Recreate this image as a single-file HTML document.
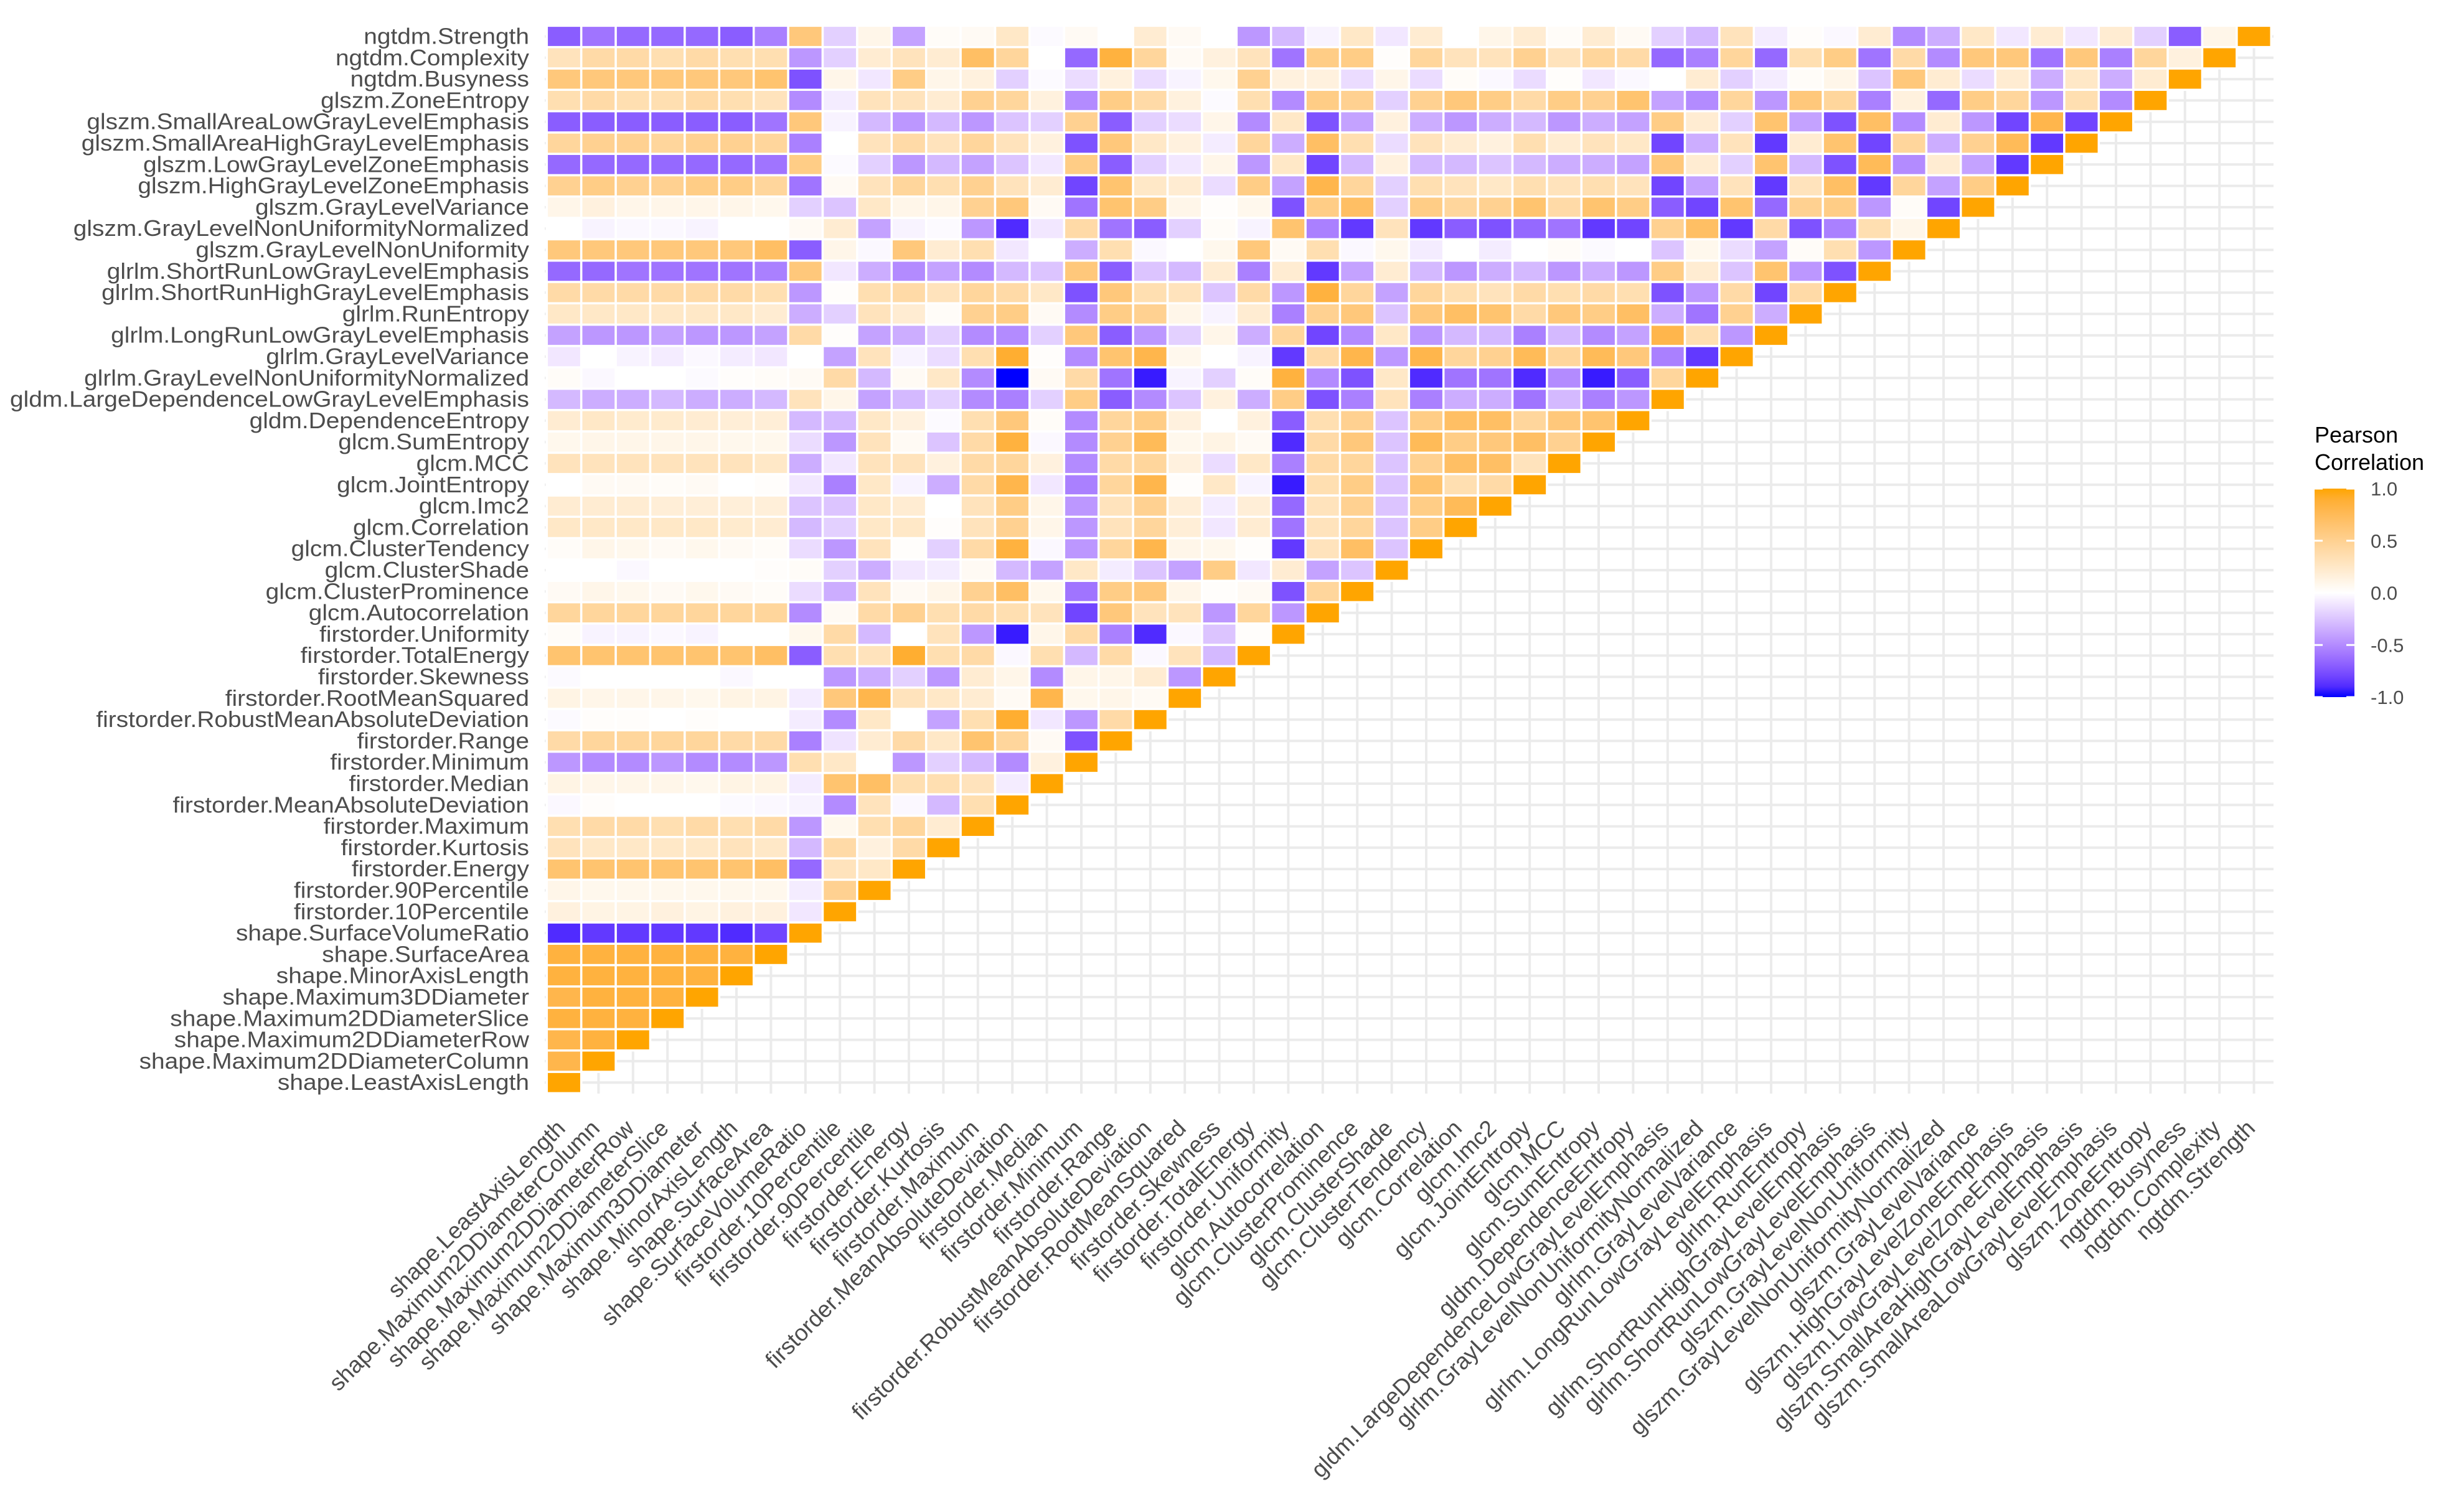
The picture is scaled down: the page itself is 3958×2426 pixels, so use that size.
<!DOCTYPE html>
<html><head><meta charset="utf-8"><style>
html,body{margin:0;padding:0;background:#fff;}
svg{display:block;}
text{font-family:"Liberation Sans",Arial,sans-serif;}
</style></head><body>
<svg id="chart" width="3958" height="2426" viewBox="0 0 3958 2426" xmlns="http://www.w3.org/2000/svg">
<rect width="3958" height="2426" fill="#ffffff"/>
<g id="grid"></g>
<g id="tiles"></g>
<g id="ylabels"></g>
<g id="xlabels"></g>
<g id="legend">
<defs><linearGradient id="lg" x1="0" y1="0" x2="0" y2="1"></linearGradient></defs>
<text x="3718" y="711" font-size="36" fill="#000">Pearson</text>
<text x="3718" y="755" font-size="36" fill="#000">Correlation</text>
</g>
</svg>
<script>
const varNames = ["shape.LeastAxisLength","shape.Maximum2DDiameterColumn","shape.Maximum2DDiameterRow","shape.Maximum2DDiameterSlice","shape.Maximum3DDiameter","shape.MinorAxisLength","shape.SurfaceArea","shape.SurfaceVolumeRatio","firstorder.10Percentile","firstorder.90Percentile","firstorder.Energy","firstorder.Kurtosis","firstorder.Maximum","firstorder.MeanAbsoluteDeviation","firstorder.Median","firstorder.Minimum","firstorder.Range","firstorder.RobustMeanAbsoluteDeviation","firstorder.RootMeanSquared","firstorder.Skewness","firstorder.TotalEnergy","firstorder.Uniformity","glcm.Autocorrelation","glcm.ClusterProminence","glcm.ClusterShade","glcm.ClusterTendency","glcm.Correlation","glcm.Imc2","glcm.JointEntropy","glcm.MCC","glcm.SumEntropy","gldm.DependenceEntropy","gldm.LargeDependenceLowGrayLevelEmphasis","glrlm.GrayLevelNonUniformityNormalized","glrlm.GrayLevelVariance","glrlm.LongRunLowGrayLevelEmphasis","glrlm.RunEntropy","glrlm.ShortRunHighGrayLevelEmphasis","glrlm.ShortRunLowGrayLevelEmphasis","glszm.GrayLevelNonUniformity","glszm.GrayLevelNonUniformityNormalized","glszm.GrayLevelVariance","glszm.HighGrayLevelZoneEmphasis","glszm.LowGrayLevelZoneEmphasis","glszm.SmallAreaHighGrayLevelEmphasis","glszm.SmallAreaLowGrayLevelEmphasis","glszm.ZoneEntropy","ngtdm.Busyness","ngtdm.Complexity","ngtdm.Strength"];
// corrRows[i] = correlations of variable i with variables 0..i (lower triangle)
const corrRows = [
[1],
[0.8,1],
[0.8,0.85,1],
[0.85,0.85,0.85,1],
[0.8,0.85,0.85,0.85,1],
[0.85,0.85,0.85,0.85,0.85,1],
[0.85,0.85,0.85,0.85,0.85,0.85,1],
[-0.9,-0.85,-0.85,-0.85,-0.85,-0.9,-0.8,1],
[0.15,0.12,0.12,0.15,0.12,0.15,0.15,-0.1,1],
[0.1,0.08,0.08,0.08,0.08,0.08,0.08,-0.08,0.5,1],
[0.65,0.65,0.65,0.65,0.65,0.65,0.7,-0.65,0.3,0.25,1],
[0.3,0.25,0.25,0.25,0.25,0.3,0.25,-0.3,0.4,0.15,0.4,1],
[0.35,0.4,0.4,0.35,0.4,0.35,0.4,-0.45,0.08,0.35,0.45,0.2,1],
[-0.03,0.02,0,0,0,-0.02,-0.03,-0.05,-0.5,0.3,-0.03,-0.3,0.35,1],
[0.12,0.1,0.1,0.1,0.08,0.12,0.12,-0.08,0.65,0.7,0.35,0.35,0.3,-0.08,1],
[-0.45,-0.5,-0.5,-0.45,-0.5,-0.5,-0.45,0.35,0.25,0,-0.45,-0.2,-0.3,-0.5,0.15,1],
[0.4,0.45,0.45,0.45,0.45,0.4,0.4,-0.55,-0.12,0.2,0.4,0.25,0.65,0.45,0.05,-0.75,1],
[-0.02,0.02,0.02,0,0.02,0,0,-0.08,-0.5,0.25,0,-0.4,0.35,0.9,-0.1,-0.45,0.4,1],
[0.12,0.1,0.1,0.1,0.08,0.12,0.12,-0.08,0.6,0.8,0.3,0.25,0.2,0.05,0.8,0.08,0.1,0.05,1],
[-0.02,0,0,0,0,-0.03,0,0,-0.45,-0.35,-0.2,-0.45,0.2,0.1,-0.5,0.1,0.1,0.2,-0.45,1],
[0.65,0.65,0.65,0.65,0.65,0.65,0.7,-0.7,0.35,0.3,0.9,0.35,0.4,-0.03,0.35,-0.3,0.4,-0.03,0.3,-0.3,1],
[0.03,-0.05,-0.05,-0.03,-0.05,0,0,0.08,0.4,-0.3,0,0.3,-0.45,-0.95,0.1,0.4,-0.55,-0.9,-0.03,-0.25,0.02,1],
[0.45,0.45,0.45,0.45,0.45,0.45,0.45,-0.5,0.05,0.4,0.5,0.35,0.4,0.35,0.3,-0.8,0.6,0.3,0.3,-0.45,0.45,-0.45,1],
[0.05,0.1,0.08,0.05,0.08,0.05,0.03,-0.15,-0.35,0.3,0.05,0.1,0.5,0.7,0.08,-0.6,0.55,0.6,0.1,0.02,0.05,-0.75,0.45,1],
[0,0,-0.03,0,0,0,0.02,0.03,-0.2,-0.35,-0.1,-0.08,0.05,-0.3,-0.4,0.25,-0.08,-0.25,-0.4,0.55,-0.1,0.2,-0.4,-0.25,1],
[0.03,0.1,0.08,0.05,0.08,0.05,0.03,-0.15,-0.45,0.3,0.02,-0.2,0.4,0.85,-0.03,-0.45,0.45,0.8,0.1,0.08,0.02,-0.85,0.3,0.7,-0.25,1],
[0.25,0.25,0.25,0.25,0.25,0.22,0.2,-0.3,-0.2,0.25,0.25,0.02,0.3,0.5,0.1,-0.45,0.3,0.45,0.18,-0.1,0.2,-0.6,0.3,0.45,-0.25,0.55,1],
[0.2,0.2,0.2,0.18,0.18,0.17,0.17,-0.25,-0.25,0.25,0.2,0,0.3,0.55,0.1,-0.45,0.3,0.5,0.18,-0.08,0.18,-0.65,0.3,0.5,-0.25,0.55,0.75,1],
[0,0.05,0.05,0.03,0.05,0,0.02,-0.1,-0.55,0.25,-0.05,-0.35,0.4,0.8,-0.1,-0.55,0.45,0.8,0.02,0.25,-0.05,-0.95,0.35,0.55,-0.25,0.65,0.35,0.4,1],
[0.3,0.3,0.3,0.3,0.3,0.3,0.25,-0.35,-0.1,0.3,0.3,0.15,0.4,0.45,0.15,-0.5,0.4,0.45,0.15,-0.15,0.25,-0.55,0.4,0.45,-0.25,0.5,0.7,0.7,0.3,1],
[0.08,0.1,0.1,0.1,0.1,0.08,0.08,-0.15,-0.45,0.3,0.05,-0.25,0.4,0.85,-0.03,-0.5,0.5,0.75,0.08,0.12,0.05,-0.9,0.4,0.6,-0.25,0.75,0.55,0.6,0.7,0.5,1],
[0.2,0.25,0.22,0.22,0.2,0.18,0.18,-0.3,-0.3,0.25,0.15,-0.02,0.35,0.6,0.03,-0.5,0.45,0.55,0.15,0,0.15,-0.7,0.35,0.5,-0.25,0.55,0.7,0.7,0.45,0.6,0.65,1],
[-0.3,-0.35,-0.35,-0.3,-0.35,-0.35,-0.3,0.3,0.1,-0.4,-0.3,-0.2,-0.5,-0.55,-0.2,0.55,-0.7,-0.5,-0.25,0.15,-0.35,0.55,-0.75,-0.55,0.3,-0.55,-0.35,-0.35,-0.6,-0.3,-0.55,-0.45,1],
[0.03,-0.03,0,0,-0.02,0.02,0.03,0.05,0.4,-0.3,0.05,0.25,-0.5,-1.0,0.05,0.4,-0.6,-0.95,-0.05,-0.2,0.03,0.85,-0.5,-0.75,0.25,-0.9,-0.6,-0.6,-0.9,-0.5,-0.95,-0.7,0.45,1],
[-0.1,0,-0.05,-0.08,-0.03,-0.08,-0.1,0,-0.4,0.3,-0.05,-0.15,0.35,0.9,0.02,-0.5,0.65,0.8,0.08,0,-0.05,-0.85,0.4,0.8,-0.45,0.8,0.45,0.5,0.75,0.45,0.75,0.6,-0.55,-0.85,1],
[-0.4,-0.45,-0.45,-0.4,-0.45,-0.45,-0.4,0.4,0.02,-0.4,-0.35,-0.2,-0.5,-0.5,-0.2,0.6,-0.7,-0.45,-0.2,0.1,-0.35,0.45,-0.8,-0.5,0.25,-0.45,-0.3,-0.3,-0.55,-0.3,-0.5,-0.4,0.8,0.35,-0.45,1],
[0.25,0.25,0.25,0.25,0.25,0.25,0.2,-0.35,-0.2,0.3,0.2,0.03,0.5,0.55,0.05,-0.5,0.55,0.5,0.1,-0.05,0.2,-0.55,0.5,0.6,-0.25,0.6,0.7,0.65,0.4,0.6,0.55,0.7,-0.35,-0.6,0.5,-0.35,1],
[0.4,0.4,0.4,0.4,0.4,0.4,0.35,-0.45,0.02,0.35,0.4,0.3,0.45,0.4,0.25,-0.75,0.6,0.35,0.3,-0.25,0.4,-0.45,0.85,0.45,-0.4,0.45,0.35,0.3,0.4,0.35,0.4,0.35,-0.75,-0.45,0.4,-0.8,0.4,1],
[-0.65,-0.65,-0.6,-0.6,-0.6,-0.6,-0.55,0.6,-0.1,-0.35,-0.5,-0.4,-0.5,-0.3,-0.25,0.6,-0.7,-0.25,-0.3,0.2,-0.55,0.2,-0.85,-0.4,0.2,-0.3,-0.45,-0.35,-0.3,-0.45,-0.35,-0.45,0.55,0.2,-0.25,0.65,-0.45,-0.75,1],
[0.6,0.6,0.6,0.6,0.6,0.6,0.7,-0.7,0.1,-0.03,0.6,0.2,0.35,-0.1,0,-0.35,0.35,-0.03,0,0.08,0.6,0.05,0.35,-0.03,0.08,-0.08,0,-0.08,0,0.03,-0.02,0,-0.25,0.08,-0.15,-0.4,0.03,0.35,-0.45,1],
[0,-0.05,-0.03,-0.03,-0.05,0,0,0.05,0.2,-0.4,-0.05,-0.02,-0.45,-0.9,-0.1,0.4,-0.6,-0.7,-0.2,0.03,-0.05,0.65,-0.55,-0.85,0.3,-0.85,-0.7,-0.75,-0.65,-0.6,-0.85,-0.8,0.5,0.7,-0.85,0.4,-0.75,-0.55,0.35,0.1,1],
[0.1,0.15,0.1,0.1,0.1,0.1,0.08,-0.2,-0.25,0.25,0.1,0.1,0.5,0.6,0.05,-0.6,0.65,0.55,0.1,0.02,0.08,-0.75,0.55,0.7,-0.2,0.55,0.45,0.5,0.65,0.4,0.65,0.55,-0.7,-0.8,0.65,-0.65,0.5,0.55,-0.45,0.03,-0.8,1],
[0.5,0.55,0.5,0.5,0.55,0.55,0.45,-0.6,0.05,0.3,0.45,0.35,0.5,0.3,0.2,-0.8,0.65,0.25,0.2,-0.15,0.55,-0.4,0.8,0.45,-0.2,0.35,0.3,0.25,0.35,0.3,0.35,0.3,-0.8,-0.4,0.3,-0.85,0.3,0.7,-0.85,0.45,-0.4,0.55,1],
[-0.65,-0.65,-0.65,-0.65,-0.65,-0.65,-0.6,0.55,-0.02,-0.2,-0.45,-0.3,-0.4,-0.25,-0.1,0.55,-0.7,-0.2,-0.1,0.1,-0.45,0.25,-0.8,-0.3,0.15,-0.3,-0.3,-0.25,-0.3,-0.35,-0.35,-0.4,0.6,0.2,-0.2,0.65,-0.3,-0.75,0.75,-0.5,0.2,-0.4,-0.85,1],
[0.45,0.5,0.5,0.45,0.5,0.5,0.45,-0.55,0,0.3,0.4,0.3,0.45,0.3,0.15,-0.75,0.6,0.25,0.15,-0.08,0.45,-0.35,0.7,0.35,-0.15,0.3,0.2,0.15,0.35,0.2,0.3,0.25,-0.8,-0.35,0.3,-0.85,0.2,0.65,-0.8,0.45,-0.35,0.5,0.75,-0.85,1],
[-0.7,-0.7,-0.7,-0.7,-0.7,-0.7,-0.6,0.6,-0.05,-0.3,-0.45,-0.3,-0.45,-0.25,-0.2,0.5,-0.7,-0.2,-0.15,0.1,-0.5,0.25,-0.75,-0.4,0.15,-0.35,-0.45,-0.35,-0.3,-0.45,-0.35,-0.4,0.55,0.2,-0.2,0.65,-0.4,-0.75,0.7,-0.5,0.2,-0.45,-0.8,0.8,-0.8,1],
[0.35,0.4,0.35,0.35,0.4,0.35,0.3,-0.5,-0.08,0.3,0.3,0.2,0.5,0.45,0.15,-0.5,0.55,0.4,0.15,-0.02,0.35,-0.5,0.55,0.5,-0.2,0.5,0.6,0.55,0.4,0.55,0.5,0.65,-0.4,-0.5,0.45,-0.45,0.6,0.45,-0.55,0.15,-0.65,0.55,0.45,-0.45,0.35,-0.5,1],
[0.6,0.6,0.6,0.6,0.6,0.6,0.65,-0.75,0.1,-0.1,0.55,0.1,0.15,-0.2,-0.02,-0.15,0.15,-0.15,-0.05,0.08,0.5,0.15,0.15,-0.15,0.1,-0.15,0.03,-0.03,-0.15,0.02,-0.1,-0.03,0,0.2,-0.2,-0.08,0.03,0.1,-0.25,0.6,0.2,-0.15,0.2,-0.35,0.25,-0.35,0.2,1],
[0.3,0.4,0.4,0.35,0.4,0.35,0.35,-0.45,-0.2,0.2,0.3,0.2,0.7,0.45,0,-0.65,0.85,0.45,0.05,0.15,0.3,-0.6,0.55,0.55,0.02,0.45,0.3,0.3,0.5,0.3,0.45,0.4,-0.65,-0.55,0.45,-0.65,0.35,0.55,-0.6,0.4,-0.5,0.6,0.6,-0.6,0.6,-0.55,0.45,0.15,1],
[-0.7,-0.6,-0.65,-0.65,-0.65,-0.7,-0.55,0.6,-0.2,0.1,-0.4,0.03,0.05,0.25,-0.02,0.05,0,0.2,0.05,0,-0.45,-0.3,-0.05,0.25,-0.1,0.2,0,0.1,0.2,0.03,0.2,0.05,-0.2,-0.3,0.3,-0.08,0.02,-0.03,0.2,-0.5,-0.35,0.25,-0.1,0.2,-0.1,0.2,-0.2,-0.7,0.1,1]
];
const legendTicks = [1.0, 0.5, 0.0, -0.5, -1.0];
const legendTickLabels = ["1.0","0.5","0.0","-0.5","-1.0"];

const NS = "http://www.w3.org/2000/svg";
const N = varNames.length;
const X0 = 906, DX = 55.4, Y0 = 58.5, DY = 34.3;
function xPos(j){ return X0 + j*DX; }
function yPos(i){ return Y0 + (N-1-i)*DY; }
function s2l(c){ c/=255; return c<=0.04045? c/12.92 : Math.pow((c+0.055)/1.055,2.4); }
function l2s(c){ c = c<=0.0031308? 12.92*c : 1.055*Math.pow(c,1/2.4)-0.055; return Math.max(0,Math.min(255,Math.round(c*255))); }
function toLab(rgb){ const r=s2l(rgb[0]),g=s2l(rgb[1]),b=s2l(rgb[2]);
 let X=(0.4124*r+0.3576*g+0.1805*b)/0.95047, Y=(0.2126*r+0.7152*g+0.0722*b), Z=(0.0193*r+0.1192*g+0.9505*b)/1.08883;
 const f=t=>t>0.008856?Math.cbrt(t):7.787*t+16/116; X=f(X);Y=f(Y);Z=f(Z);
 return [116*Y-16, 500*(X-Y), 200*(Y-Z)]; }
function fromLab(lab){ const Y=(lab[0]+16)/116, X=lab[1]/500+Y, Z=Y-lab[2]/200;
 const fi=t=>{const t3=t*t*t; return t3>0.008856?t3:(t-16/116)/7.787;};
 const x=fi(X)*0.95047,y=fi(Y),z=fi(Z)*1.08883;
 const r=3.2406*x-1.5372*y-0.4986*z, g=-0.9689*x+1.8758*y+0.0415*z, b=0.0557*x-0.2040*y+1.0570*z;
 return "rgb("+l2s(r)+","+l2s(g)+","+l2s(b)+")"; }
const LW=toLab([255,255,255]), LO=toLab([255,165,0]), LB=toLab([0,0,255]);
function colorOf(v){ v=Math.max(-1,Math.min(1,v)); const t=Math.abs(v), E=v>=0?LO:LB;
 return fromLab([LW[0]+(E[0]-LW[0])*t, LW[1]+(E[1]-LW[1])*t, LW[2]+(E[2]-LW[2])*t]); }

const grid=document.getElementById('grid');
for(let j=0;j<N;j++){
 const l=document.createElementNS(NS,'line');
 l.setAttribute('x1',xPos(j));l.setAttribute('x2',xPos(j));l.setAttribute('y1',40);l.setAttribute('y2',1757);
 l.setAttribute('stroke','#ebebeb');l.setAttribute('stroke-width',4);
 
 
 grid.appendChild(l);
}
for(let i=0;i<N;i++){
 const l=document.createElementNS(NS,'line');
 l.setAttribute('y1',yPos(i));l.setAttribute('y2',yPos(i));l.setAttribute('x1',875);l.setAttribute('x2',3652);
 l.setAttribute('stroke','#ebebeb');l.setAttribute('stroke-width',4);
 
 
 grid.appendChild(l);
}
const tiles=document.getElementById('tiles');
for(let i=0;i<N;i++){
 const row=corrRows[i];
 for(let j=0;j<row.length;j++){
  const r=document.createElementNS(NS,'rect');
  r.setAttribute('x',xPos(j)-DX/2);r.setAttribute('y',yPos(i)-DY/2);
  r.setAttribute('width',DX);r.setAttribute('height',DY);
  r.setAttribute('fill',colorOf(row[j]));r.setAttribute('stroke','#ffffff');r.setAttribute('stroke-width',3.5);
  
  
  tiles.appendChild(r);
 }
}
const yl=document.getElementById('ylabels');
for(let i=0;i<N;i++){
 const t=document.createElementNS(NS,'text');
 t.setAttribute('x',850);t.setAttribute('y',yPos(i)+12);t.setAttribute('text-anchor','end');
 t.setAttribute('font-size',36);t.setAttribute('fill','#4d4d4d');
 t.setAttribute('transform','translate(850,0) scale(1.08,1) translate(-850,0)');
 t.textContent=varNames[i];
 
 
 yl.appendChild(t);
}
const xl=document.getElementById('xlabels');
for(let j=0;j<N;j++){
 const t=document.createElementNS(NS,'text');
 const ax=xPos(j)+4, ay=1815;
 t.setAttribute('x',ax);t.setAttribute('y',ay);t.setAttribute('text-anchor','end');
 t.setAttribute('transform','rotate(-45 '+ax+' '+ay+')');
 t.setAttribute('font-size',37);t.setAttribute('fill','#4d4d4d');
 t.textContent=varNames[j];
 
 
 xl.appendChild(t);
}
const lg=document.getElementById('lg');
for(let k=0;k<=20;k++){
 const v=1-k/10; const s=document.createElementNS(NS,'stop');
 s.setAttribute('offset',(k/20));s.setAttribute('stop-color',colorOf(v));lg.appendChild(s);
}
const legend=document.getElementById('legend');
const LT=785, LBm=1120, LX=3718, LWd=64;
function legY(v){ return LT + (1-v)/2*(LBm-LT); }
const bar=document.createElementNS(NS,'rect');
bar.setAttribute('x',LX);bar.setAttribute('y',LT);bar.setAttribute('width',LWd);bar.setAttribute('height',LBm-LT);bar.setAttribute('fill','url(#lg)');


legend.appendChild(bar);
legendTicks.forEach((v,k)=>{
 const y=legY(v);
 [[LX,LX+13],[LX+LWd-13,LX+LWd]].forEach(p=>{
  const l=document.createElementNS(NS,'line');
  l.setAttribute('x1',p[0]);l.setAttribute('x2',p[1]);l.setAttribute('y1',y);l.setAttribute('y2',y);
  l.setAttribute('stroke','#ffffff');l.setAttribute('stroke-width',3);
  
  
  legend.appendChild(l);
 });
 const t=document.createElementNS(NS,'text');
 t.setAttribute('x',3808);t.setAttribute('y',y+11);t.setAttribute('font-size',31);t.setAttribute('fill','#4d4d4d');
 t.textContent=legendTickLabels[k];
 
 
 legend.appendChild(t);
});
</script>
</body></html>
